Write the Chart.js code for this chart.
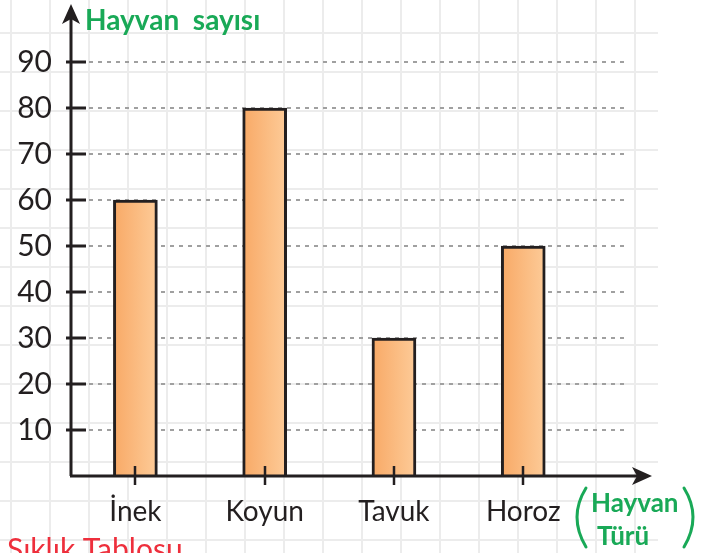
<!DOCTYPE html>
<html>
<head>
<meta charset="utf-8">
<script src="https://cdn.jsdelivr.net/npm/chart.js@4"></script>
<style>
  body { margin: 0; background: #fff; }
  canvas { display: block; }
</style>
</head>
<body>
<canvas id="hayvanChart" width="712" height="553"></canvas>
<script>
// veriler
const categories = ['İnek', 'Koyun', 'Tavuk', 'Horoz'];
const counts = [60, 80, 30, 50];
const yTicks = [10, 20, 30, 40, 50, 60, 70, 80, 90];

const ink = '#231f20';
const green = '#19a957';

// arka plandaki kareli kağıt + eksen okları
const paperPlugin = {
    id: 'paper',
    beforeDraw(chart) {
        const c = chart.ctx;
        c.save();
        c.fillStyle = '#fff';
        c.fillRect(0, 0, chart.width, chart.height);
        c.strokeStyle = '#ececec';
        c.lineWidth = 2;
        for (let x = 11; x <= 640; x += 39) {
            c.beginPath(); c.moveTo(x, 0); c.lineTo(x, chart.height); c.stroke();
        }
        for (let y = 33; y <= chart.height; y += 39) {
            c.beginPath(); c.moveTo(0, y); c.lineTo(658, y); c.stroke();
        }
        // noktalı yatay çizgiler
        const ys = chart.scales.y;
        const area = chart.chartArea;
        c.strokeStyle = '#a0a0a0';
        c.setLineDash([4, 5]);
        yTicks.forEach(v => {
            const py = Math.round(ys.getPixelForValue(v));
            c.beginPath(); c.moveTo(area.left + 18, py); c.lineTo(area.right, py); c.stroke();
        });
        c.restore();
    },
    afterDraw(chart) {
        const c = chart.ctx;
        const area = chart.chartArea;
        const ys = chart.scales.y;
        const xs = chart.scales.x;
        const ox = area.left, oy = area.bottom;
        c.save();
        c.strokeStyle = ink;
        c.fillStyle = ink;
        c.lineWidth = 3;
        c.beginPath();
        c.moveTo(ox, oy); c.lineTo(ox, 14);
        c.moveTo(ox - 1, oy); c.lineTo(642, oy);
        c.stroke();
        // oklar
        c.beginPath();
        c.moveTo(ox, 4); c.lineTo(ox + 9, 24); c.lineTo(ox, 19); c.lineTo(ox - 9, 24); c.closePath();
        c.fill();
        c.beginPath();
        c.moveTo(652, oy); c.lineTo(632, oy - 9); c.lineTo(637, oy); c.lineTo(632, oy + 9); c.closePath();
        c.fill();
        // y çentikleri
        c.lineWidth = 3;
        yTicks.forEach(v => {
            const py = Math.round(ys.getPixelForValue(v));
            c.beginPath(); c.moveTo(ox - 5, py); c.lineTo(ox + 15, py); c.stroke();
        });
        // x çentikleri
        c.lineWidth = 2.5;
        categories.forEach((_, i) => {
            const px = Math.round(xs.getPixelForValue(i));
            c.beginPath(); c.moveTo(px, oy - 10); c.lineTo(px, oy + 9); c.stroke();
        });
        // başlıklar
        c.fillStyle = green;
        c.strokeStyle = green;
        c.textBaseline = 'alphabetic';
        c.textAlign = 'left';
        c.font = 'bold 28px Lato';
        c.fillText('Hayvan  sayısı', 85, 30);
        c.font = 'bold 26px Lato';
        c.fillText('Hayvan', 591, 512);
        c.fillText('Türü', 597, 545);
        // parantezler
        c.lineWidth = 3;
        c.lineCap = 'round';
        c.beginPath();
        c.moveTo(586, 488); c.quadraticCurveTo(568, 517, 586, 547);
        c.moveTo(684, 488); c.quadraticCurveTo(702, 517, 684, 547);
        c.stroke();
        c.fillStyle = '#ee2f3c';
        c.font = '30px Lato';
        c.fillText('Sıklık Tablosu', 7, 560);
        c.restore();
    }
};

const ctx = document.getElementById('hayvanChart').getContext('2d');
const chart = new Chart(ctx, {
    type: 'bar',
    data: {
        datasets: [{
            label: 'Hayvan sayısı',
            data: categories.map((name, i) => ({ x: i, y: counts[i] })),
            backgroundColor: (context) => {
                const ch = context.chart;
                const xs = ch.scales.x;
                if (!xs || !context.parsed) return '#fbbb80';
                const cx = xs.getPixelForValue(context.parsed.x);
                if (!Number.isFinite(cx)) return '#fbbb80';
                const g = ch.ctx.createLinearGradient(cx - 22, 0, cx + 22, 0);
                g.addColorStop(0, '#f8a966');
                g.addColorStop(1, '#fdcb98');
                return g;
            },
            borderColor: ink,
            borderWidth: 3,
            barThickness: 44
        }]
    },
    options: {
        responsive: false,
        animation: false,
        layout: { padding: { top: 62, right: 87, left: 0, bottom: 0 } },
        plugins: {
            legend: { display: false },
            tooltip: { enabled: false }
        },
        scales: {
            x: {
                type: 'linear',
                offset: false,
                min: -0.498,
                max: 3.787,
                grid: { display: false, drawTicks: false },
                border: { display: false },
                afterBuildTicks: (s) => { s.ticks = categories.map((_, i) => ({ value: i })); },
                afterFit: (s) => { s.height = 77; },
                ticks: {
                    padding: 19,
                    color: ink,
                    font: { family: 'Lato', size: 28 },
                    callback: (v) => categories[v]
                }
            },
            y: {
                min: 0,
                max: 90,
                grid: { display: false, drawTicks: false },
                border: { display: false },
                afterBuildTicks: (s) => { s.ticks = yTicks.map(v => ({ value: v })); },
                afterFit: (s) => { s.width = 71; },
                ticks: {
                    padding: 19,
                    color: ink,
                    font: { family: 'Lato', size: 30 }
                }
            }
        }
    },
    plugins: [paperPlugin]
});
</script>
</body>
</html>
